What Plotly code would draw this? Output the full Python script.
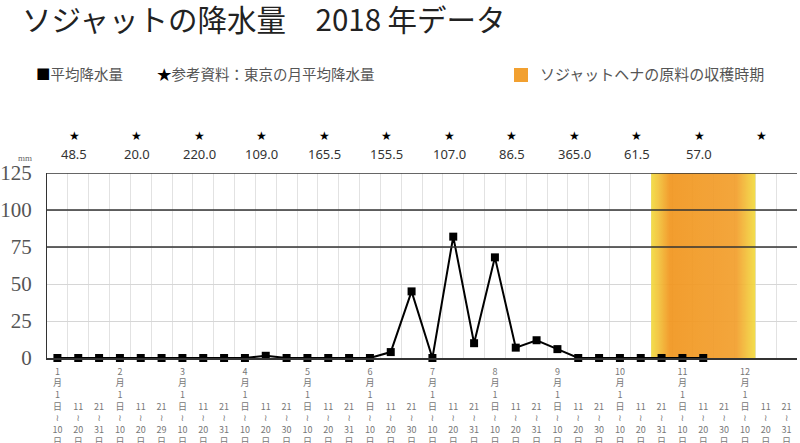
import plotly.graph_objects as go

# 旬ごとの平均降水量 (mm) — 1月上旬〜11月中旬
rain = [0, 0, 0,  0, 0, 0,  0, 0, 0,  0, 1.5, 0,
        0, 0, 0,  0, 4, 45,  0, 82, 10,  68, 7, 12,
        6, 0, 0,  0, 0, 0,  0, 0]

months = list(range(1, 13))
month_end = [31, 29, 31, 30, 31, 30, 31, 31, 30, 31, 30, 31]

# 参考資料：東京の月平均降水量 (12月は値なし)
tokyo = [48.5, 20.0, 220.0, 109.0, 165.5, 155.5, 107.0, 86.5, 365.0, 61.5, 57.0, None]

# 収穫時期: 10月下旬〜12月上旬 (旬の番号)
harvest_start = 29
harvest_end = 33

y_ticks = [0, 25, 50, 75, 100, 125]
dark_levels = [75, 100, 125]

# 旬ラベル (縦書き)
wave = '<span style="font-family:DejaVu Sans">≀</span>'
pad = "\u00a0<br>\u00a0<br>\u00a0<br>"
tick_text = []
for m, end in zip(months, month_end):
    tick_text.append(f"{m}<br>月<br>1<br>日<br>{wave}<br>10<br>日")
    tick_text.append(pad + f"11<br>{wave}<br>20<br>日")
    tick_text.append(pad + f"21<br>{wave}<br>{end}<br>日")
tick_pos = list(range(len(tick_text)))

W, H = 800, 443
L, R, T, B = 47, 3, 173, 85
plot_w = W - L - R
plot_h = H - T - B


def px(x):
    return (x - L) / plot_w


def py(y):
    return (H - B - y) / plot_h


fig = go.Figure()

# 収穫時期の帯
x0, x1 = harvest_start - 0.5, harvest_end + 0.5
fig.add_trace(go.Scatter(
    x=[x0, x1, x1, x0, x0],
    y=[0, 0, 125, 125, 0],
    mode='lines',
    line=dict(width=0),
    fill='toself',
    fillgradient=dict(
        type='horizontal',
        colorscale=[[0, '#f3dc3e'], [0.07, '#f3c23a'], [0.18, '#f2961f'],
                    [0.82, '#f3a02e'], [0.93, '#f3c53c'], [1, '#f3dc3e']],
    ),
    opacity=0.93,
    hoverinfo='skip',
    showlegend=False,
))

# 平均降水量
fig.add_trace(go.Scatter(
    x=list(range(len(rain))),
    y=rain,
    mode='lines+markers',
    line=dict(color='black', width=2),
    marker=dict(symbol='square', size=8, color='black'),
    cliponaxis=False,
    showlegend=False,
))

for lv in dark_levels:
    fig.add_shape(type='line', xref='paper', x0=0, x1=1, y0=lv, y1=lv,
                  line=dict(color='#333333', width=1.3), layer='above')

# 東京の月平均降水量 (★)
for i, v in enumerate(tokyo):
    xc = i * 3 + 1
    fig.add_annotation(x=xc, y=py(135), xref='x', yref='paper', text='★',
                       showarrow=False, xshift=-4, xanchor='center', yanchor='middle',
                       font=dict(size=12, color='black'))
    if v is not None:
        fig.add_annotation(x=xc, y=py(154), xref='x', yref='paper', text=f'{v:.1f}',
                           showarrow=False, xshift=-4, xanchor='center', yanchor='middle',
                           font=dict(size=13, color='#333333', family='Noto Sans, sans-serif'))

fig.add_annotation(x=px(25), y=py(158), xref='paper', yref='paper', text='mm',
                   showarrow=False, xanchor='center', yanchor='middle',
                   font=dict(size=9, color='#666666', family='Liberation Serif'))

# 凡例
jp = 'Noto Sans CJK JP'
fig.add_annotation(x=px(34), y=py(73), xref='paper', yref='paper', xanchor='left', yanchor='middle',
                   text='<span style="color:black">■</span>平均降水量', showarrow=False,
                   font=dict(size=14.5, color='#555555', family=jp))
fig.add_annotation(x=px(155), y=py(73), xref='paper', yref='paper', xanchor='left', yanchor='middle',
                   text='<span style="color:black">★</span>参考資料：東京の月平均降水量', showarrow=False,
                   font=dict(size=14.5, color='#555555', family=jp))
fig.add_shape(type='rect', xref='paper', yref='paper',
              x0=px(514), x1=px(528), y0=py(82), y1=py(68),
              fillcolor='#f2a030', line=dict(width=0))
fig.add_annotation(x=px(538), y=py(74), xref='paper', yref='paper', xanchor='left', yanchor='middle',
                   text='ソジャットヘナの原料の収穫時期', showarrow=False,
                   font=dict(size=15, color='#555555', family=jp))

fig.update_layout(
    width=W, height=H,
    margin=dict(l=L, r=R, t=T, b=B, autoexpand=False),
    paper_bgcolor='white', plot_bgcolor='white',
    title=dict(text='ソジャットの降水量　2018 年データ', x=22 / W, xanchor='left',
               xref='container', y=1 - 21 / H, yanchor='middle', yref='container',
               automargin=False,
               font=dict(size=29.5, color='#222222', family=jp)),
    xaxis=dict(
        range=[-0.5, 35.5], automargin=False,
        tickmode='array', tickvals=tick_pos, ticktext=tick_text,
        tickangle=0, showgrid=False, zeroline=False,
        tickfont=dict(size=9, color='#777777', family=jp),
        ticks='', ticklabelstandoff=4,
        showline=True, linecolor='#333333', linewidth=1.5,
        minor=dict(tick0=-0.5, dtick=1, showgrid=True, gridcolor='#e2e2e2', gridwidth=1),
    ),
    yaxis=dict(
        range=[0, 125], automargin=False,
        tickmode='array', tickvals=y_ticks,
        showgrid=True, gridcolor='#d6d6d6', zeroline=False,
        tickfont=dict(size=21, color='#555555', family='Liberation Serif'),
        ticklabelstandoff=10,
        showline=True, linecolor='#333333', linewidth=1.3,
    ),
)

fig.write_html("out.html", config={'displayModeBar': False},
               post_script="document.body.style.margin='0';")
